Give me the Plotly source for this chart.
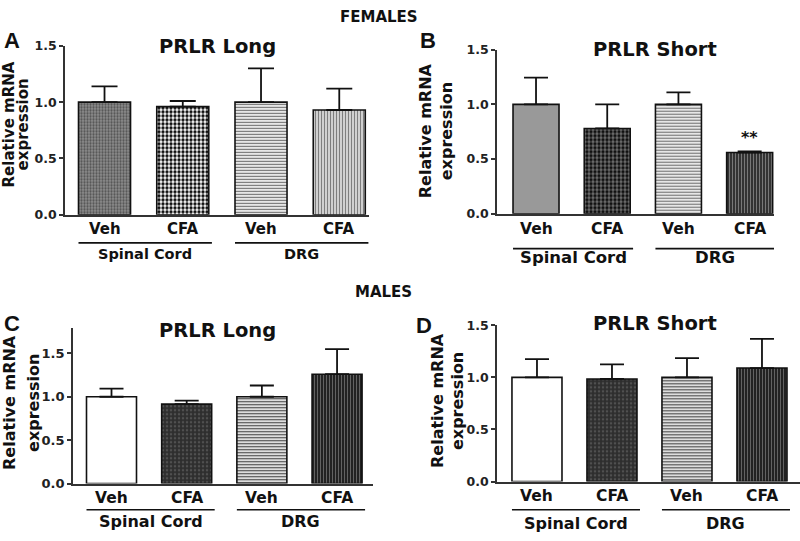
import plotly.graph_objects as go

# ---------------- data ----------------
categories = ["Veh", "CFA", "Veh", "CFA"]
groups = ["Spinal Cord", "DRG"]
panel_letters = ["A", "B", "C", "D"]
panel_titles = ["PRLR Long", "PRLR Short", "PRLR Long", "PRLR Short"]
section_titles = ["FEMALES", "MALES"]
y_title_lines = ["Relative mRNA", "expression"]
tick_vals = [0.0, 0.5, 1.0, 1.5]

a_mean = [1.00, 0.96, 1.00, 0.93]
a_top = [1.14, 1.01, 1.30, 1.12]
b_mean = [1.00, 0.78, 1.00, 0.56]
b_top = [1.245, 1.00, 1.11, 0.57]
c_mean = [1.00, 0.915, 1.00, 1.26]
c_top = [1.095, 0.955, 1.13, 1.55]
d_mean = [1.00, 0.985, 1.00, 1.09]
d_top = [1.175, 1.125, 1.185, 1.37]

W, H = 800, 541
def px(x): return x / W
def py(y): return 1 - y / H

FONT = "DejaVu Sans"

# per-bar fill style: (base colour, pattern shape, pattern colour, size, solidity)
styles = {
    "A": [("#8e8e8e", ".", "#555555", 3, 0.45),
          ("#ffffff", ".", "#111111", 4, 0.55),
          ("#ffffff", "-", "#6e6e6e", 3, 0.45),
          ("#e2e2e2", "|", "#7e7e7e", 3, 0.45)],
    "B": [("#999999", "", "#999999", 4, 0.3),
          ("#707070", ".", "#111111", 4, 0.55),
          ("#ffffff", "-", "#6e6e6e", 3, 0.45),
          ("#333333", "|", "#808080", 3, 0.3)],
    "C": [("#ffffff", "", "#ffffff", 4, 0.3),
          ("#2e2e2e", ".", "#505050", 4, 0.3),
          ("#eeeeee", "-", "#444444", 3, 0.4),
          ("#222222", "|", "#6a6a6a", 3, 0.3)],
    "D": [("#ffffff", "", "#ffffff", 4, 0.3),
          ("#2e2e2e", ".", "#505050", 4, 0.3),
          ("#eeeeee", "-", "#444444", 3, 0.4),
          ("#222222", "|", "#6a6a6a", 3, 0.3)],
}

panels = [
    dict(key="A", mean=a_mean, top=a_top, xd=(65, 369), yd=(39, 213), yr=[0, 1.5],
         xr=[-0.505, 3.38], w=0.665, cap=13, lab_y=228, ul_y=242, grp_y=253,
         title=(217, 40), letter=(12, 34), yt=(9, 23, 120),
         fs=dict(title=19.5, cat=15, grp=14.5, yt=15, tick=12.5)),
    dict(key="B", mean=b_mean, top=b_top, xd=(497, 774), yd=(43, 212), yr=[0, 1.5],
         xr=[-0.548, 3.342], w=0.646, cap=12, lab_y=228, ul_y=248, grp_y=257,
         title=(655, 43), letter=(428, 33), yt=(425, 446, 127),
         fs=dict(title=19.5, cat=15.5, grp=16.5, yt=16, tick=12.5)),
    dict(key="C", mean=c_mean, top=c_top, xd=(73, 373), yd=(330, 490), yr=[0, 1.79],
         xr=[-0.512, 3.478], w=0.665, cap=12, lab_y=505, ul_y=517, grp_y=529,
         title=(217, 332), letter=(12, 325), yt=(10, 34, 407),
         fs=dict(title=19.5, cat=15.5, grp=16, yt=16, tick=13)),
    dict(key="D", mean=d_mean, top=d_top, xd=(497, 800), yd=(327, 488), yr=[0, 1.5],
         xr=[-0.533, 3.507], w=0.667, cap=12, lab_y=503, ul_y=517, grp_y=531,
         title=(655, 325), letter=(424, 327), yt=(437, 457, 405),
         fs=dict(title=19.5, cat=15.5, grp=16, yt=16, tick=12.5)),
]

fig = go.Figure()
annotations = []
shapes = []
layout = {}

for i, p in enumerate(panels):
    n = "" if i == 0 else str(i + 1)
    xa, ya = "x" + n, "y" + n
    st = styles[p["key"]]
    for j in range(len(categories)):
        base, shape, fg, size, sol = st[j]
        fig.add_trace(go.Bar(
            x=[j], y=[p["mean"][j]], width=p["w"], xaxis=xa, yaxis=ya,
            marker=dict(
                color=base,
                line=dict(color="#111111", width=1.6),
                pattern=dict(shape=shape, fgcolor=fg, fgopacity=1, size=size,
                             solidity=sol, fillmode="overlay"),
            ),
            error_y=dict(type="data", symmetric=False,
                         array=[p["top"][j] - p["mean"][j]], arrayminus=[0],
                         color="#111111", thickness=1.8, width=p["cap"]),
            hoverinfo="skip", showlegend=False,
        ))
    layout["xaxis" + n] = dict(
        domain=[px(p["xd"][0]), px(p["xd"][1])], range=p["xr"], anchor=ya,
        showline=True, linecolor="#333333", linewidth=1.6, ticks="",
        showticklabels=False, showgrid=False, zeroline=False, fixedrange=True)
    layout["yaxis" + n] = dict(
        domain=[py(p["yd"][1]), py(p["yd"][0])], range=p["yr"], anchor=xa,
        showline=True, linecolor="#333333", linewidth=1.6, ticks="outside",
        ticklen=4, tickwidth=1.5, tickcolor="#333333", tickvals=tick_vals,
        tickformat=".1f", showgrid=False, zeroline=False, fixedrange=True,
        tickfont=dict(family=FONT, size=p["fs"]["tick"], color="#222222", weight="bold"))

    fs = p["fs"]
    for j, c in enumerate(categories):
        annotations.append(dict(x=j, xref=xa, y=py(p["lab_y"]), yref="paper",
                                text=c, showarrow=False, xanchor="center", yanchor="middle",
                                font=dict(family=FONT, size=fs["cat"], color="#111111", weight="bold")))
    hw = p["w"] / 2
    for g, (a, b) in enumerate([(0, 1), (2, 3)]):
        x0, x1 = a - hw, b + hw + 0.04
        shapes.append(dict(type="line", xref=xa, yref="paper", x0=x0, x1=x1,
                           y0=py(p["ul_y"]), y1=py(p["ul_y"]),
                           line=dict(color="#111111", width=1.6)))
        annotations.append(dict(x=(x0 + x1) / 2, xref=xa, y=py(p["grp_y"]), yref="paper",
                                text=groups[g], showarrow=False, xanchor="center", yanchor="middle",
                                font=dict(family=FONT, size=fs["grp"], color="#111111", weight="bold")))
    annotations.append(dict(x=px(p["title"][0]), y=py(p["title"][1]), xref="paper", yref="paper",
                            text=panel_titles[i], showarrow=False, xanchor="center", yanchor="middle",
                            font=dict(family=FONT, size=fs["title"], color="#111111", weight="bold")))
    annotations.append(dict(x=px(p["letter"][0]), y=py(p["letter"][1]), xref="paper", yref="paper",
                            text=panel_letters[i], showarrow=False, xanchor="center", yanchor="middle",
                            font=dict(family="Liberation Sans", size=22, color="#111111", weight="bold")))
    for k, line in enumerate(y_title_lines):
        annotations.append(dict(x=px(p["yt"][k]), y=py(p["yt"][2]), xref="paper", yref="paper",
                                text=line, showarrow=False, textangle=-90,
                                xanchor="center", yanchor="middle",
                                font=dict(family=FONT, size=fs["yt"], color="#111111", weight="bold")))

annotations.append(dict(x=3, xref="x2", y=b_top[3], yref="y2", text="**", showarrow=False,
                        xanchor="center", yanchor="bottom", yshift=2,
                        font=dict(family=FONT, size=16, color="#111111", weight="bold")))

annotations.append(dict(x=px(379), y=py(9), xref="paper", yref="paper", text=section_titles[0],
                        showarrow=False, xanchor="center", yanchor="middle",
                        font=dict(family=FONT, size=15, color="#111111", weight="bold")))
annotations.append(dict(x=px(383), y=py(293), xref="paper", yref="paper", text=section_titles[1],
                        showarrow=False, xanchor="center", yanchor="middle",
                        font=dict(family=FONT, size=15, color="#111111", weight="bold")))

fig.update_layout(
    width=W, height=H, margin=dict(l=0, r=0, t=0, b=0),
    paper_bgcolor="white", plot_bgcolor="white", showlegend=False,
    barmode="overlay", annotations=annotations, shapes=shapes, **layout)

fig.write_html("out.html", config={"displayModeBar": False},
               post_script="document.body.style.margin='0';document.body.style.overflow='hidden';")
